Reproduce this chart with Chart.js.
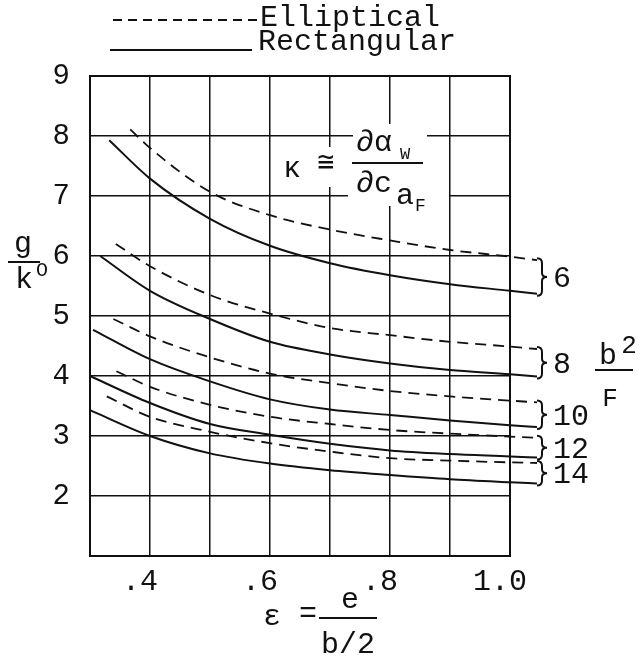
<!DOCTYPE html>
<html>
<head>
<meta charset="utf-8">
<script src="https://cdn.jsdelivr.net/npm/chart.js@4.4.0/dist/chart.umd.min.js"></script>
<style>
  html, body { margin: 0; padding: 0; background: #fff; }
  canvas { display: block; }
</style>
</head>
<body>
<canvas id="chart" width="644" height="661"></canvas>
<script>
// epsilon = e/(b/2) values shared by every curve
const eps = [0.4, 0.5, 0.6, 0.7, 0.8, 0.9, 1.0];
const leaderEps = 1.045; // short lead-out to the brace

const aspectRatios = [6, 8, 10, 12, 14];

// rectangular (solid)
const rectStartEps = [0.332, 0.317, 0.305, 0.300, 0.300];
const rectStartG = [7.93, 6.00, 4.77, 4.00, 3.43];
const rect6 = [7.29, 6.62, 6.17, 5.88, 5.68, 5.53, 5.42];
const rect8 = [5.42, 4.95, 4.57, 4.36, 4.21, 4.10, 4.03];
const rect10 = [4.28, 3.91, 3.61, 3.44, 3.35, 3.26, 3.18];
const rect12 = [3.55, 3.20, 3.02, 2.87, 2.76, 2.70, 2.66];
const rect14 = [3.00, 2.71, 2.54, 2.43, 2.35, 2.28, 2.23];
const rectLeaderG = [5.37, 3.99, 3.15, 2.64, 2.21];

// elliptical (dashed)
const ellStartEps = [0.367, 0.343, 0.339, 0.344, 0.328];
const ellStartG = [8.11, 6.20, 4.95, 4.08, 3.66];
const ell6 = [7.80, 7.07, 6.68, 6.44, 6.26, 6.10, 5.99];
const ell8 = [5.83, 5.35, 5.04, 4.80, 4.68, 4.57, 4.49];
const ell10 = [4.66, 4.31, 4.04, 3.88, 3.75, 3.66, 3.59];
const ell12 = [3.82, 3.52, 3.32, 3.20, 3.10, 3.04, 2.99];
const ell14 = [3.32, 3.07, 2.88, 2.74, 2.63, 2.59, 2.56];
const ellLeaderG = [5.93, 4.45, 3.56, 2.97, 2.55];

const xGridValues = [0.3, 0.4, 0.5, 0.6, 0.7, 0.8, 0.9, 1.0];
const xLabelValues = [0.4, 0.6, 0.8, 1.0];
const xLabelTexts = ['.4', '.6', '.8', '1.0'];

const rectSeries = [rect6, rect8, rect10, rect12, rect14];
const ellSeries = [ell6, ell8, ell10, ell12, ell14];

const FONT = "'Liberation Mono', 'DejaVu Sans Mono', monospace";
const INK = '#111';

function curve(x0, y0, ys, yEnd) {
    let pts = [{ x: x0, y: y0 }];
    eps.forEach((x, i) => pts.push({ x: x, y: ys[i] }));
    pts.push({ x: leaderEps, y: yEnd });
    return pts;
}

let datasets = [];
aspectRatios.forEach((ar, i) => {
    datasets.push({
        label: 'Elliptical ' + ar,
        data: curve(ellStartEps[i], ellStartG[i], ellSeries[i], ellLeaderG[i]),
        borderDash: [11, 7],
        borderWidth: 1.8
    });
    datasets.push({
        label: 'Rectangular ' + ar,
        data: curve(rectStartEps[i], rectStartG[i], rectSeries[i], rectLeaderG[i]),
        borderWidth: 2
    });
});
datasets.forEach(d => {
    d.showLine = true;
    d.borderColor = INK;
    d.pointRadius = 0;
    d.fill = false;
    d.clip = false;
    d.cubicInterpolationMode = 'monotone';
});

function txt(ctx, s, x, y, size, align) {
    ctx.font = size + 'px ' + FONT;
    ctx.textAlign = align || 'center';
    ctx.textBaseline = 'middle';
    ctx.fillText(s, x, y);
}
function hline(ctx, x1, x2, y, w) {
    ctx.beginPath();
    ctx.lineWidth = w || 2;
    ctx.moveTo(x1, y);
    ctx.lineTo(x2, y);
    ctx.stroke();
}

const annotations = {
    id: 'annotations',
    afterDraw(chart) {
        const ctx = chart.ctx;
        const a = chart.chartArea;
        ctx.save();
        ctx.fillStyle = INK;
        ctx.strokeStyle = INK;

        // frame
        ctx.lineWidth = 2;
        ctx.strokeRect(a.left, a.top, a.right - a.left, a.bottom - a.top);

        // legend
        ctx.setLineDash([9, 6]);
        hline(ctx, a.left + 23, a.left + 167, 20, 1.8);
        ctx.setLineDash([]);
        txt(ctx, 'Elliptical', a.left + 170, 18, 30, 'left');
        hline(ctx, a.left + 20, a.left + 162, 50, 2);
        txt(ctx, 'Rectangular', a.left + 168, 42, 30, 'left');

        // kappa definition, on a white patch over the grid
        ctx.fillStyle = '#fff';
        ctx.fillRect(348, 150, 101, 56);
        ctx.fillRect(353, 124, 74, 28);
        ctx.fillRect(321, 147, 16, 40);
        ctx.fillStyle = INK;
        txt(ctx, 'κ', 292, 169, 30);
        txt(ctx, '≅', 326, 164, 28);
        txt(ctx, '∂α', 356, 143, 30, 'left');
        txt(ctx, 'W', 400, 154, 17, 'left');
        hline(ctx, 352, 423, 163, 2);
        txt(ctx, '∂c', 356, 184, 30, 'left');
        txt(ctx, 'a', 396, 196, 30, 'left');
        txt(ctx, 'F', 415, 206, 18, 'left');

        // y axis title g / k_o
        txt(ctx, 'g', 23, 244, 30);
        hline(ctx, 8, 40, 262, 2);
        txt(ctx, 'k', 24, 280, 30);
        txt(ctx, 'O', 42, 271, 20);

        // x axis title  eps = e / (b/2)
        txt(ctx, 'ε', 272, 617, 30);
        txt(ctx, '=', 308, 614, 30);
        txt(ctx, 'e', 350, 600, 30);
        hline(ctx, 319, 377, 618, 2);
        txt(ctx, 'b/2', 348, 645, 30);

        // braces joining each pair of lead-outs, labelled with b^2/F
        aspectRatios.forEach((ar, i) => {
            const ellMeta = chart.getDatasetMeta(2 * i);
            const rectMeta = chart.getDatasetMeta(2 * i + 1);
            const pe = ellMeta.data[ellMeta.data.length - 1];
            const pr = rectMeta.data[rectMeta.data.length - 1];
            const x0 = pe.x, y1 = pe.y - 2, y2 = pr.y + 2, ym = (y1 + y2) / 2, w = 5;
            ctx.beginPath();
            ctx.lineWidth = 2;
            ctx.moveTo(x0, y1);
            ctx.quadraticCurveTo(x0 + w, y1, x0 + w, y1 + 5);
            ctx.lineTo(x0 + w, ym - 4);
            ctx.quadraticCurveTo(x0 + w, ym, x0 + 2 * w, ym);
            ctx.quadraticCurveTo(x0 + w, ym, x0 + w, ym + 4);
            ctx.lineTo(x0 + w, y2 - 5);
            ctx.quadraticCurveTo(x0 + w, y2, x0, y2);
            ctx.stroke();
            txt(ctx, String(ar), x0 + 16, ym + 2, 30, 'left');
        });
        txt(ctx, 'b', 608, 356, 30);
        txt(ctx, '2', 629, 346, 26);
        hline(ctx, 595, 633, 370, 2);
        txt(ctx, 'F', 610, 399, 26);

        ctx.restore();
    }
};

new Chart(document.getElementById('chart'), {
    type: 'scatter',
    data: { datasets: datasets },
    options: {
        responsive: false,
        animation: false,
        layout: { padding: { left: 0, top: 76, right: 134, bottom: 55 } },
        plugins: { legend: { display: false }, tooltip: { enabled: false } },
        scales: {
            x: {
                type: 'linear',
                // range set here (not via min/max) so the lead-outs past 1.0 are still drawn
                afterDataLimits: (s) => { s.min = 0.3; s.max = 1.0; },
                afterBuildTicks: (s) => {
                    s.ticks = xGridValues.map(v => ({ value: v }));
                    s.min = 0.3;
                    s.max = 1.0;
                },
                afterFit: (s) => { s.height = 50; },
                grid: { color: INK, lineWidth: 1.5, drawTicks: false },
                border: { color: INK, width: 2 },
                ticks: {
                    padding: 8,
                    labelOffset: -10,
                    color: INK,
                    font: { family: FONT, size: 30 },
                    maxRotation: 0,
                    autoSkip: false,
                    callback: (v) => {
                        const i = xLabelValues.findIndex(t => Math.abs(t - v) < 1e-6);
                        return i >= 0 ? xLabelTexts[i] : '';
                    }
                }
            },
            y: {
                type: 'linear',
                min: 1,
                max: 9,
                afterFit: (s) => { s.width = 90; },
                grid: { color: INK, lineWidth: 1.5, drawTicks: false },
                border: { color: INK, width: 2 },
                ticks: {
                    stepSize: 1,
                    padding: 20,
                    color: INK,
                    font: { family: FONT, size: 29 },
                    callback: (v) => (v === 1 ? '' : String(v))
                }
            }
        }
    },
    plugins: [annotations]
});
</script>
</body>
</html>
